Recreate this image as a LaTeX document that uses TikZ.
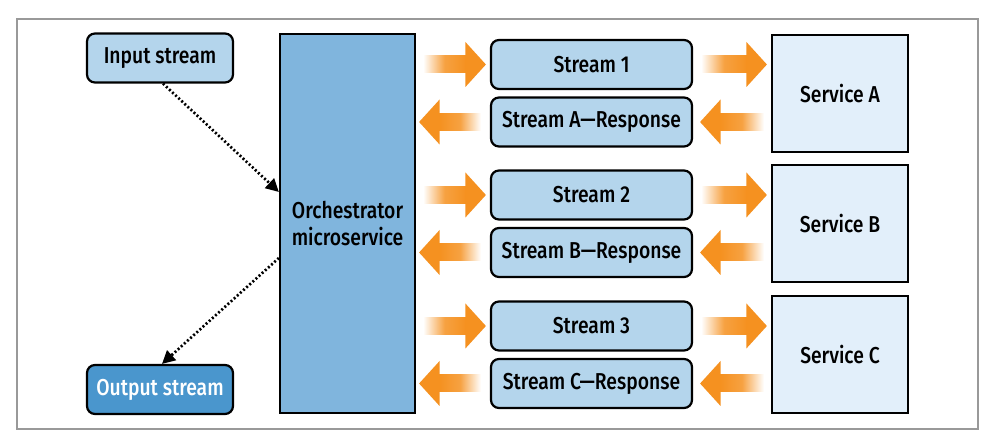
\documentclass[tikz,border=0pt]{standalone}
\usepackage{fontspec}
\setmainfont{Fira Sans}[UprightFont=* Medium, FakeStretch=0.84]
\usetikzlibrary{calc,arrows.meta}
\definecolor{orng}{RGB}{245,145,32}
\definecolor{lblue}{RGB}{180,213,236}
\definecolor{mblue}{RGB}{128,181,221}
\definecolor{dblue}{RGB}{74,150,205}
\definecolor{pblue}{RGB}{226,239,250}
\tikzset{
  box/.style={draw=black, line width=2.2pt, font=\fontsize{23}{27}\selectfont, inner sep=0pt, align=center},
  rbox/.style={box, rounded corners=8pt, fill=lblue, minimum width=146pt, minimum height=49pt},
  streambox/.style={box, rounded corners=8pt, fill=lblue, minimum width=201pt, minimum height=49pt},
  svcbox/.style={box, fill=pblue, minimum width=136pt, minimum height=117pt},
  orchbox/.style={box, fill=mblue, minimum width=135pt, minimum height=379pt},
  outbox/.style={rbox, fill=dblue, text=white},
  dotline/.style={line width=2.7pt, dash pattern=on 2pt off 2.2pt, -{Triangle[length=13pt,width=13pt]}},
}
% orange arrow pointing right: tail #1, tip #2
\newcommand\orR[2]{%
  \path #1 coordinate (oa); \path #2 coordinate (ob);
  \shade[left color=white, right color=orng, middle color=orng!85] ($(oa)+(0,-8.5)$) rectangle ($(ob)+(-20,8.5)$);
  \fill[orng] ($(ob)+(-20.5,-22.5)$) -- (ob) -- ($(ob)+(-20.5,22.5)$) -- cycle;}
% orange arrow pointing left: tip #1, tail #2
\newcommand\orL[2]{%
  \path #1 coordinate (oa); \path #2 coordinate (ob);
  \shade[left color=orng, right color=white, middle color=orng!85] ($(oa)+(20,-8.5)$) rectangle ($(ob)+(0,8.5)$);
  \fill[orng] ($(oa)+(20.5,-22.5)$) -- (oa) -- ($(oa)+(20.5,22.5)$) -- cycle;}
\begin{document}
\begin{tikzpicture}[x=1pt,y=-1pt]
\useasboundingbox (0,0) rectangle (994,443);
\fill[white] (0,0) rectangle (994,443);
\draw[gray!80, line width=1.2pt] (17,19) rectangle (978,429);

\node[rbox] (input) at (160,58) {Input stream};
\node[outbox] (output) at (160,389.5) {Output stream};
\node[orchbox] (orch) at (347.5,223.5) {Orchestrator\\microservice};

\node[streambox] (s1) at (591.5,64.5) {Stream 1};
\node[streambox] (r1) at (591.5,122) {Stream A—Response};
\node[streambox] (s2) at (591.5,195) {Stream 2};
\node[streambox] (r2) at (591.5,252.5) {Stream B—Response};
\node[streambox] (s3) at (591.5,326) {Stream 3};
\node[streambox] (r3) at (591.5,383.5) {Stream C—Response};

\node[svcbox] (sa) at (840,93.5) {Service A};
\node[svcbox] (sb) at (840,223.5) {Service B};
\node[svcbox] (sc) at (840,354.5) {Service C};

\draw[dotline] ($(input.south)+(3,0)$) -- ($(orch.west)+(0,-31.5)$);
\draw[dotline] ($(orch.west)+(0,34.5)$) -- ($(output.north)+(2,0)$);

\foreach \s/\r/\v in {s1/r1/sa, s2/r2/sb, s3/r3/sc}{
  \orR{($(orch.east |- \s.west)+(7,0)$)}{($(\s.west)+(-4,0)$)}
  \orL{($(orch.east |- \r.west)+(3,0)$)}{($(\r.west)+(-9,0)$)}
  \orR{($(\s.east)+(8,0)$)}{($(\v.west |- \s.east)+(-4,0)$)}
  \orL{($(\r.east)+(7,0)$)}{($(\v.west |- \r.east)+(-7,0)$)}
}
\end{tikzpicture}
\end{document}
